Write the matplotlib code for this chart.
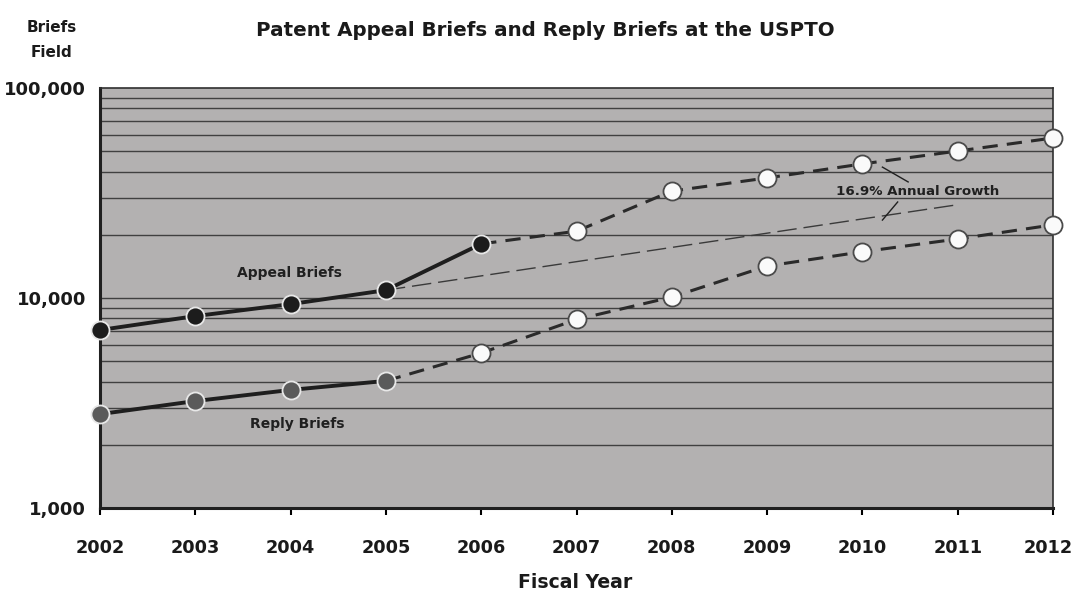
import matplotlib
matplotlib.use("Agg")
import matplotlib.pyplot as plt
import matplotlib.transforms as mtransforms
import numpy as np
from matplotlib.ticker import FixedLocator, LogLocator, NullFormatter

years = [2002, 2003, 2004, 2005, 2006, 2007, 2008, 2009, 2010, 2011, 2012]
appeal = [7040, 8200, 9350, 10900, 18100, 20800, 32300, 37300, 43500, 50100, 57800]
reply = [2800, 3230, 3650, 4030, 5470, 7900, 10100, 14200, 16600, 19100, 22300]
appeal_actual_n = 5   # 2002-2006 actual
reply_actual_n = 4    # 2002-2005 actual
trend_start_year = 2005
trend_end_year = 2011
trend_rate = 0.169
ytick_vals = [1000, 10000, 100000]
ytick_labels = ["1,000", "10,000", "100,000"]

plt.rcParams['font.family'] = ['DejaVu Sans']
plt.rcParams['font.weight'] = 'bold'

fig = plt.figure(figsize=(10.75, 5.93), dpi=100)
ax = fig.add_axes([100/1075, 1-508/593, (1053-100)/1075, (508-88)/593])
ax.set_facecolor('#b3b1b1')
ax.set_yscale('log')
ax.set_ylim(1000, 100000)
ax.set_xlim(2002, 2012)

# gridlines at every log tick
for dec in [1000, 10000]:
    for k in range(1, 10):
        ax.axhline(dec*k, color='#404040', lw=1.0, zorder=1)

# trend line
ty = [trend_start_year, trend_end_year]
base = appeal[years.index(trend_start_year)]
tv = [base, base*(1+trend_rate)**(trend_end_year-trend_start_year)]
ax.plot(ty, tv, color='#3a3a3a', lw=1.0, ls=(0, (14, 5)), zorder=2)

# series lines
def draw(vals, n, fill):
    ax.plot(years[:n], vals[:n], color='#1e1e1e', lw=2.8, zorder=3, solid_capstyle='round')
    ax.plot(years[n-1:], vals[n-1:], color='#2a2a2a', lw=2.2, ls=(0, (5, 3)), zorder=3)
    ax.plot(years[:n], vals[:n], ls='none', marker='o', ms=13, mfc=fill,
            mec='#e8e8e8', mew=1.3, zorder=5, clip_on=False)
    ax.plot(years[n:], vals[n:], ls='none', marker='o', ms=13, mfc='#fafafa',
            mec='#4a4a4a', mew=1.3, zorder=5, clip_on=False)

draw(appeal, appeal_actual_n, '#1c1c1c')
draw(reply, reply_actual_n, '#5a5a5a')

# labels on chart
ax.text(2003.99, 13150, "Appeal Briefs", fontsize=10, color='#202020', ha='center', va='center')
ax.text(2004.07, 2510, "Reply Briefs", fontsize=10, color='#202020', ha='center', va='center')
ax.text(2010.58, 31980, "16.9% Annual Growth", fontsize=9.6, color='#202020', ha='center', va='center')
ax.plot([2010.21, 2010.48], [42000, 35700], color='#202020', lw=1.0, zorder=4)
ax.plot([2010.37, 2010.21], [28650, 23500], color='#202020', lw=1.0, zorder=4)

# axes styling
for s in ['top', 'right']:
    ax.spines[s].set_linewidth(1.2)
    ax.spines[s].set_color('#303030')
for s in ['left', 'bottom']:
    ax.spines[s].set_linewidth(2.2)
    ax.spines[s].set_color('#202020')

ax.yaxis.set_major_locator(FixedLocator(ytick_vals))
ax.set_yticklabels(ytick_labels)
ax.yaxis.set_minor_locator(LogLocator(base=10, subs=range(2, 10)))
ax.yaxis.set_minor_formatter(NullFormatter())
ax.tick_params(axis='y', which='both', length=0, labelsize=13, pad=10)
ax.set_xticks(years)
ax.set_xticklabels([str(y) for y in years])
ax.tick_params(axis='x', length=5, width=1.5, labelsize=12.7, pad=17, direction='out')
for lab in ax.get_xticklabels() + ax.get_yticklabels():
    lab.set_fontweight('bold')
    lab.set_color('#1a1a1a')
last = ax.get_xticklabels()[-1]
last.set_transform(last.get_transform() + mtransforms.ScaledTranslation(-5/100, 0, fig.dpi_scale_trans))

fig.text(545/1075, 1-30/593, "Patent Appeal Briefs and Reply Briefs at the USPTO",
         fontsize=14.3, fontweight='bold', ha='center', va='center', color='#1a1a1a')
fig.text(52/1075, 1-40/593, "Briefs\nField", fontsize=11, fontweight='bold',
         ha='center', va='center', color='#1a1a1a', linespacing=1.9)
fig.text(575/1075, 1-583/593, "Fiscal Year", fontsize=13.6, fontweight='bold',
         ha='center', va='center', color='#1a1a1a')

fig.savefig("out.png", dpi=100)
